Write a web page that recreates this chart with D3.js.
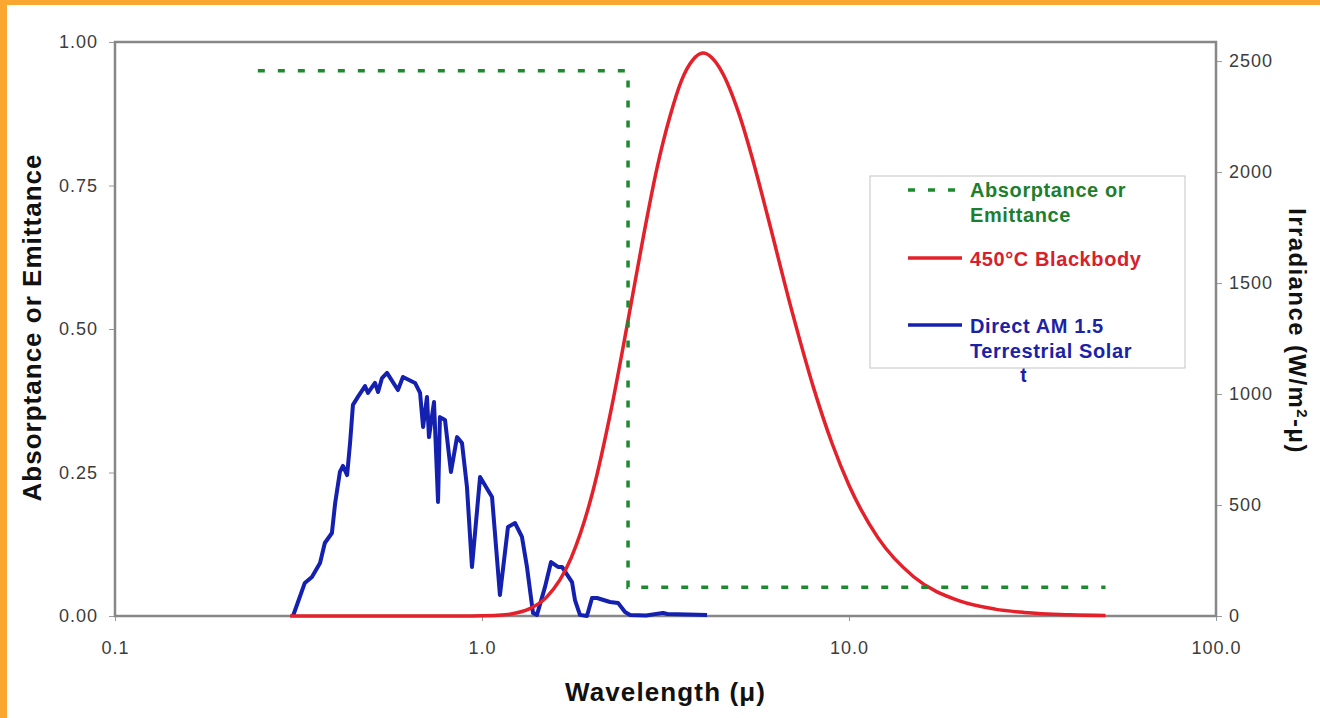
<!DOCTYPE html>
<html>
<head>
<meta charset="utf-8">
<script src="https://cdn.jsdelivr.net/npm/d3@7"></script>
<style>
  body { margin: 0; background: #fff; }
  svg { display: block; font-family: "Liberation Sans", Arial, sans-serif; }
</style>
</head>
<body>
<div id="chart"></div>
<script>
var width = 1320, height = 718;

// ticks
var xTicks = [0.1, 1, 10, 100];
var leftTicks = [0, 0.25, 0.5, 0.75, 1];
var rightTicks = [0, 500, 1000, 1500, 2000, 2500];

// absorptance / emittance step (left axis)
var absWl  = [0.245, 2.5, 2.5, 50];
var absVal = [0.95, 0.95, 0.05, 0.05];

// 450C blackbody (right axis, W/m2-u)
var bbWl  = [0.3, 0.6, 0.9, 1.0, 1.1, 1.2, 1.35, 1.5, 1.75, 2.0, 2.25, 2.5, 2.75, 3.0, 3.25, 3.5, 3.75, 4.0, 4.5, 5.0, 5.5, 6.0, 7.0, 8.0, 9.0, 10, 12, 15, 20, 25, 30, 40, 50];
var bbVal = [0, 0, 0.2, 0.9, 3, 9, 33, 85, 262, 555, 932, 1332, 1706, 2020, 2249, 2414, 2504, 2536, 2453, 2269, 2040, 1802, 1370, 1030, 776, 589, 352, 177, 68, 31, 16, 5.6, 2.4];

// direct AM 1.5 terrestrial solar spectrum (right axis)
var solarWl  = [0.3055, 0.329, 0.344, 0.362, 0.373, 0.390, 0.398, 0.410, 0.418, 0.429, 0.437, 0.445, 0.459, 0.480, 0.489, 0.511, 0.521, 0.534, 0.551, 0.590, 0.609, 0.657, 0.678, 0.691, 0.708, 0.717, 0.740, 0.759, 0.768, 0.793, 0.823, 0.855, 0.882, 0.910, 0.939, 0.988, 1.065, 1.119, 1.177, 1.230, 1.285, 1.326, 1.377, 1.412, 1.485, 1.542, 1.611, 1.652, 1.759, 1.792, 1.849, 1.932, 1.994, 2.058, 2.233, 2.348, 2.453, 2.532, 2.8, 3.113, 3.2, 4.104];
var solarVal = [0, 149, 176, 239, 329, 374, 509, 649, 676, 635, 779, 951, 987, 1036, 1005, 1050, 1009, 1072, 1095, 1018, 1077, 1050, 1005, 851, 987, 806, 964, 514, 896, 883, 649, 806, 779, 581, 221, 626, 536, 95, 401, 419, 356, 221, 14, 5, 131, 243, 221, 221, 153, 72, 5, 0, 81, 81, 63, 59, 18, 5, 2, 14, 9, 5];

var legendLabels = [["Absorptance or", "Emittance"], ["450°C Blackbody"], ["Direct AM 1.5", "Terrestrial Solar", "Spectrum"]];
var legendColors = ["#1d7f2e", "#d8202c", "#1c22a6"];
var lineColors = ["#1e8a30", "#e4202a", "#1420b0"];

var svg = d3.select("#chart").append("svg")
  .attr("width", width)
  .attr("height", height);

svg.append("rect").attr("width", width).attr("height", height).attr("fill", "#fff");
// orange frame strips
svg.append("rect").attr("x", 0).attr("y", 0).attr("width", width).attr("height", 5).attr("fill", "#f9a730");
svg.append("rect").attr("x", 0).attr("y", 0).attr("width", 7).attr("height", height).attr("fill", "#f9a730");

var x = d3.scaleLog().domain([0.1, 100]).range([115, 1216]);
var yL = d3.scaleLinear().domain([0, 1]).range([616, 42]);
var yR = d3.scaleLinear().domain([0, 2586]).range([616, 42]);

// axes
var gL = svg.append("g").attr("transform", "translate(115,0)")
  .call(d3.axisLeft(yL).tickValues(leftTicks).tickFormat(d3.format(".2f")).tickSize(6).tickPadding(11));
var gR = svg.append("g").attr("transform", "translate(1216,0)")
  .call(d3.axisRight(yR).tickValues(rightTicks).tickFormat(d3.format("d")).tickSize(6).tickPadding(7));
var gB = svg.append("g").attr("transform", "translate(0,616)")
  .call(d3.axisBottom(x).tickValues(xTicks).tickFormat(d3.format(".1f")).tickSize(5).tickPadding(20));

[gL, gR, gB].forEach(function(g) {
  g.select(".domain").remove();
  g.selectAll(".tick line").attr("stroke", "#999");
  g.selectAll(".tick text")
    .attr("fill", "#3c3c3c")
    .style("font-size", "18px")
    .style("letter-spacing", "1px");
});

// plot frame
svg.append("rect")
  .attr("x", 115).attr("y", 42)
  .attr("width", 1216 - 115).attr("height", 616 - 42)
  .attr("fill", "none")
  .attr("stroke", "#878787")
  .attr("stroke-width", 2.5);

// series
var solar = solarWl.map(function(w, i) { return [w, solarVal[i]]; });
var bb = bbWl.map(function(w, i) { return [w, bbVal[i]]; });
var abs = absWl.map(function(w, i) { return [w, absVal[i]]; });

var lineR = d3.line().x(function(d) { return x(d[0]); }).y(function(d) { return yR(d[1]); });
var lineBB = d3.line().curve(d3.curveMonotoneX).x(function(d) { return x(d[0]); }).y(function(d) { return yR(d[1]); });
var lineL = d3.line().x(function(d) { return x(d[0]); }).y(function(d) { return yL(d[1]); });

svg.append("path").datum(solar)
  .attr("d", lineR)
  .attr("fill", "none")
  .attr("stroke", lineColors[2])
  .attr("stroke-width", 4)
  .attr("stroke-linejoin", "round");

svg.append("path").datum(bb)
  .attr("d", lineBB)
  .attr("fill", "none")
  .attr("stroke", lineColors[1])
  .attr("stroke-width", 3.5);

svg.append("path").datum(abs)
  .attr("d", lineL)
  .attr("fill", "none")
  .attr("stroke", lineColors[0])
  .attr("stroke-width", 3.5)
  .attr("stroke-dasharray", "7,13");

// legend
var legend = svg.append("g");
legend.append("rect")
  .attr("x", 870).attr("y", 176)
  .attr("width", 315).attr("height", 192)
  .attr("fill", "#fff")
  .attr("stroke", "#c4c4c4")
  .attr("stroke-width", 1);

var rowY = [197, 266, 333];
var sampleY = [190, 258, 325];
var defs = svg.append("defs");
defs.append("clipPath").attr("id", "clipT")
  .append("rect").attr("x", 1019.5).attr("y", 360).attr("width", 7).attr("height", 30);

legendLabels.forEach(function(lines, i) {
  legend.append("line")
    .attr("x1", 908).attr("x2", 962)
    .attr("y1", sampleY[i]).attr("y2", sampleY[i])
    .attr("stroke", lineColors[i])
    .attr("stroke-width", 3.5)
    .attr("stroke-dasharray", i == 0 ? "7,13" : null);
  lines.forEach(function(t, j) {
    var txt = legend.append("text")
      .attr("x", 970)
      .attr("y", rowY[i] + j * 24.5)
      .attr("fill", legendColors[i])
      .style("font-size", "20px")
      .style("font-weight", "bold")
      .style("letter-spacing", "0.6px")
      .text(t);
    // last line of the solar label is cut off in the original
    if (i == 2 && j == 2) txt.attr("clip-path", "url(#clipT)");
  });
});

// axis titles
svg.append("text")
  .attr("transform", "translate(41,328) rotate(-90)")
  .attr("text-anchor", "middle")
  .attr("textLength", 347)
  .attr("fill", "#111")
  .style("font-size", "26px")
  .style("font-weight", "bold")
  .text("Absorptance or Emittance");

svg.append("text")
  .attr("x", 665).attr("y", 701)
  .attr("text-anchor", "middle")
  .attr("textLength", 200)
  .attr("fill", "#111")
  .style("font-size", "26px")
  .style("font-weight", "bold")
  .text("Wavelength (\u03bc)");

var rt = svg.append("text")
  .attr("transform", "translate(1289,331) rotate(90)")
  .attr("text-anchor", "middle")
  .attr("fill", "#111")
  .style("font-size", "24px")
  .style("font-weight", "bold")
  .style("letter-spacing", "1.4px");
rt.append("tspan").text("Irradiance (W/m");
rt.append("tspan").attr("baseline-shift", "super").style("font-size", "15px").text("2");
rt.append("tspan").text("-\u03bc)");
</script>
</body>
</html>
